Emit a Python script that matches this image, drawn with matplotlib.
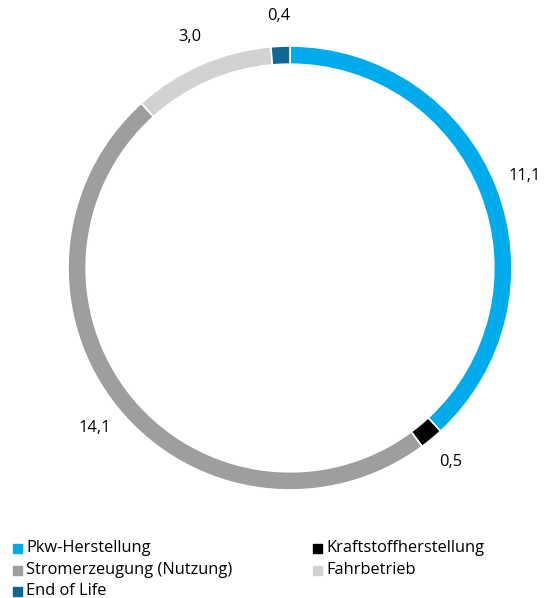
import matplotlib.pyplot as plt
import matplotlib.patches as mpatches
import numpy as np

plt.rcParams['font.family'] = ['Open Sans', 'DejaVu Sans']

# Daten
labels = ['Pkw-Herstellung', 'Kraftstoffherstellung', 'Stromerzeugung (Nutzung)', 'Fahrbetrieb', 'End of Life']
values = [11.1, 0.5, 14.1, 3.0, 0.4]
value_texts = ['11,1', '0,5', '14,1', '3,0', '0,4']
colors = ['#00ABEC', '#000000', '#9E9E9E', '#D2D2D2', '#0E6892']

fig = plt.figure(figsize=(5.48, 5.98), dpi=100)
ax = fig.add_axes([0.1241, 0.1806, 0.8102, 0.7425])

wedges, _ = ax.pie(values, colors=colors, startangle=90, counterclock=False,
                   radius=1.0, wedgeprops=dict(width=0.082, edgecolor='white', linewidth=1.2))
ax.set_xlim(-1, 1)
ax.set_ylim(-1, 1)
ax.set_aspect('equal')
ax.axis('off')

# Werte außen
total = sum(values)
cum = 0
for v, t in zip(values, value_texts):
    mid = 90 - (cum + v / 2) / total * 360
    cum += v
    a = np.deg2rad(mid)
    ax.text(1.135 * np.cos(a), 1.135 * np.sin(a), t, ha='center', va='center', fontsize=11.8, color='#000000')

# Legende (zwei Spalten)
order = [0, 2, 4, 1, 3]
pos = [(13, 548), (13, 570), (13, 591), (313, 548), (313, 570)]
for i, (px, py) in zip(order, pos):
    sq = 9
    fig.patches.append(mpatches.Rectangle((px / 548, (598 - py - sq / 2) / 598), sq / 548, sq / 598,
                                          transform=fig.transFigure, color=colors[i]))
    fig.text((px + 13) / 548, (598 - py) / 598, labels[i], ha='left', va='center', fontsize=11.8)

fig.savefig('out.png', dpi=100)
